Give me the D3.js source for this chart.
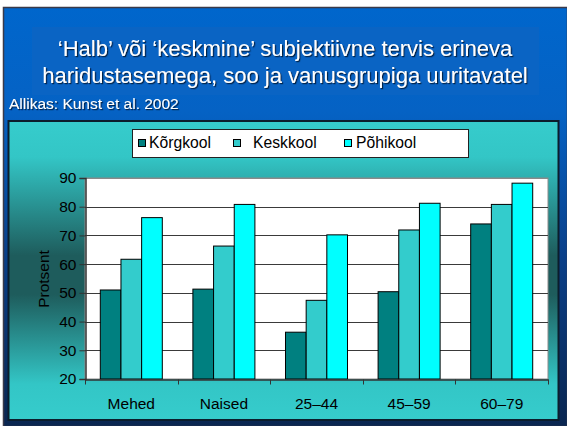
<!DOCTYPE html>
<html>
<head>
<meta charset="utf-8">
<script src="https://cdn.jsdelivr.net/npm/d3@7"></script>
<style>
  html, body { margin: 0; padding: 0; background: #ffffff; }
  svg { display: block; }
  text { font-family: "Liberation Sans", Arial, sans-serif; }
</style>
</head>
<body>
<script>
// ---- data ----
const categories = ["Mehed", "Naised", "25–44", "45–59", "60–79"];
const series = ["Kõrgkool", "Keskkool", "Põhikool"];
const korgkool = [51, 51.3, 36.3, 50.4, 74];
const keskkool = [61.7, 66.3, 47.4, 71.9, 80.8];
const pohikool = [76.2, 80.8, 70.2, 81.2, 88.2];
const yTicks = [20, 30, 40, 50, 60, 70, 80, 90];
const titleLines = ["‘Halb’ või ‘keskmine’ subjektiivne tervis erineva",
                    "haridustasemega, soo ja vanusgrupiga uuritavatel"];
const sourceText = "Allikas: Kunst et al. 2002";
const yLabel = "Protsent";

const seriesValues = [korgkool, keskkool, pohikool];
const colors = ["#008080", "#33cccc", "#00ffff"];

const W = 567, H = 426;
const svg = d3.select("body").append("svg").attr("width", W).attr("height", H);
const defs = svg.append("defs");

// slide background gradient
const bg = defs.append("linearGradient").attr("id", "slideBg")
  .attr("x1", 0).attr("y1", 0).attr("x2", 0).attr("y2", 1);
bg.append("stop").attr("offset", 0).attr("stop-color", "#0066cc");
bg.append("stop").attr("offset", 0.25).attr("stop-color", "#0562c4");
bg.append("stop").attr("offset", 0.6).attr("stop-color", "#0a3f88");
bg.append("stop").attr("offset", 1).attr("stop-color", "#0a2650");

// panel gradient
const pg = defs.append("linearGradient").attr("id", "panelBg")
  .attr("x1", 0).attr("y1", 0).attr("x2", 0).attr("y2", 1);
pg.append("stop").attr("offset", 0).attr("stop-color", "#36cccc");
pg.append("stop").attr("offset", 0.12).attr("stop-color", "#33c6c6");
pg.append("stop").attr("offset", 0.45).attr("stop-color", "#1e5c5c");
pg.append("stop").attr("offset", 0.58).attr("stop-color", "#1e5c5c");
pg.append("stop").attr("offset", 0.88).attr("stop-color", "#33c6c6");
pg.append("stop").attr("offset", 1).attr("stop-color", "#36cccc");

const sh = defs.append("filter").attr("id", "shadow")
  .attr("x", "-5%").attr("y", "-20%").attr("width", "110%").attr("height", "140%");
sh.append("feDropShadow").attr("dx", 1.2).attr("dy", 1.2).attr("stdDeviation", 0.4)
  .attr("flood-color", "#001a40").attr("flood-opacity", 0.95);

// slide
svg.append("rect").attr("x", 3.5).attr("y", 7.5).attr("width", W - 3).attr("height", H - 7)
  .attr("fill", "url(#slideBg)").attr("stroke", "#3a3a4a").attr("stroke-width", 1.5);

// title box
svg.append("rect").attr("x", 32).attr("y", 27).attr("width", 507).attr("height", 68)
  .attr("fill", "#0a64c4");

svg.append("g").attr("filter", "url(#shadow)")
  .selectAll("text").data(titleLines).join("text")
  .attr("x", 285).attr("y", (d, i) => 56 + i * 27)
  .attr("text-anchor", "middle").attr("fill", "#ffffff")
  .attr("font-size", 22).text(d => d);

svg.append("text").attr("x", 9).attr("y", 109).attr("fill", "#ffffff")
  .attr("font-size", 15.5).attr("filter", "url(#shadow)").text(sourceText);

// chart panel
svg.append("rect").attr("x", 8.5).attr("y", 121).attr("width", 550).attr("height", 299)
  .attr("fill", "url(#panelBg)").attr("stroke", "#0b1d2c").attr("stroke-width", 2);

// legend
const lg = svg.append("g");
lg.append("rect").attr("x", 132.5).attr("y", 129.5).attr("width", 336).attr("height", 28)
  .attr("fill", "#ffffff").attr("stroke", "#222").attr("stroke-width", 1);
const legendX = [138, 233, 344];
const legendTextX = [149, 253, 356];
series.forEach((s, i) => {
  lg.append("rect").attr("x", legendX[i] + 0.5).attr("y", 139.5).attr("width", 7).attr("height", 7)
    .attr("fill", colors[i]).attr("stroke", "#000").attr("stroke-width", 1);
  lg.append("text").attr("x", legendTextX[i]).attr("y", 148).attr("font-size", 15.7)
    .attr("fill", "#000").text(s);
});

// plot
const plotL = 85, plotR = 548, plotT = 178, plotB = 379;
const x0 = d3.scaleBand().domain(categories).range([plotL, plotR]).paddingInner(0).paddingOuter(0);
const x1 = d3.scaleBand().domain(series).range([0, x0.bandwidth()]).paddingInner(0).paddingOuter(0.74);
const y = d3.scaleLinear().domain([20, 90]).range([plotB, plotT]);

svg.append("rect").attr("x", plotL).attr("y", plotT).attr("width", plotR - plotL).attr("height", plotB - plotT)
  .attr("fill", "#ffffff").attr("stroke", "#8a8a8a").attr("stroke-width", 1);

// gridlines
svg.append("g").selectAll("line").data(yTicks.filter(t => t > 20)).join("line")
  .attr("x1", plotL).attr("x2", plotR)
  .attr("y1", d => Math.round(y(d)) + 0.5).attr("y2", d => Math.round(y(d)) + 0.5)
  .attr("stroke", d => d === 90 ? "#8a8a8a" : "#3a3a3a").attr("stroke-width", 1);

// bars
const groups = svg.append("g").selectAll("g").data(categories).join("g")
  .attr("transform", d => `translate(${x0(d)},0)`);
groups.selectAll("rect").data((d, ci) => series.map((s, si) => ({ s, si, v: seriesValues[si][ci] })))
  .join("rect")
  .attr("x", d => x1(d.s)).attr("width", x1.bandwidth())
  .attr("y", d => y(d.v)).attr("height", d => plotB - y(d.v))
  .attr("fill", d => colors[d.si]).attr("stroke", "#000").attr("stroke-width", 1);

// y axis
const yAxis = svg.append("g").attr("transform", `translate(${plotL + 0.5},0)`)
  .call(d3.axisLeft(y).tickValues(yTicks).tickSize(6).tickPadding(3).tickFormat(d3.format("d")));
yAxis.select(".domain").attr("stroke", "#333").attr("stroke-width", 1.5);
yAxis.selectAll(".tick line").attr("stroke", "#333");
yAxis.selectAll("text").attr("font-size", 15.5).attr("fill", "#000")
  .attr("font-family", "Liberation Sans, Arial, sans-serif");

// x axis
const xAxis = svg.append("g").attr("transform", `translate(0,${plotB + 0.5})`)
  .call(d3.axisBottom(x0).tickSize(0).tickPadding(18));
xAxis.select(".domain").attr("stroke", "#333").attr("stroke-width", 1.5);
xAxis.selectAll("text").attr("font-size", 15.5).attr("fill", "#000")
  .attr("font-family", "Liberation Sans, Arial, sans-serif");
// boundary ticks
const bounds = categories.map(c => x0(c)).concat([plotR]);
xAxis.append("g").selectAll("line").data(bounds).join("line")
  .attr("x1", d => Math.round(d) + 0.5).attr("x2", d => Math.round(d) + 0.5)
  .attr("y1", 0).attr("y2", 5).attr("stroke", "#333");

// y label
svg.append("text").attr("transform", "translate(49,279) rotate(-90)")
  .attr("text-anchor", "middle").attr("font-size", 15.5).attr("fill", "#000").text(yLabel);
</script>
</body>
</html>
